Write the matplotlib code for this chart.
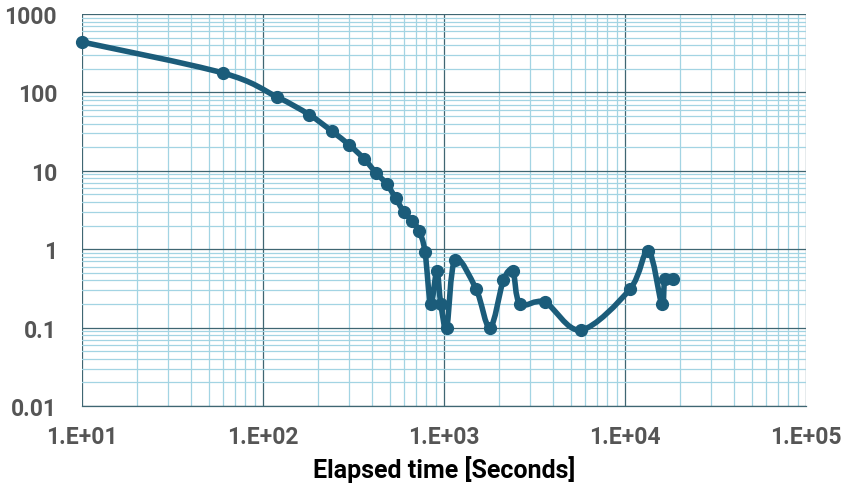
import numpy as np
import matplotlib.pyplot as plt
import matplotlib.ticker as mticker
from matplotlib.path import Path
from matplotlib.patches import PathPatch

# values (log-log)
elapsed_s = [10, 60, 119, 180, 240, 300, 363, 421, 482, 541, 601, 668, 728, 785,
             844, 912, 960, 1035, 1150, 1503, 1795, 2128, 2400, 2630, 3610, 5710,
             10660, 13460, 15960, 16630, 18500]
values = [440, 177, 88, 52, 32, 21.3, 14.1, 9.4, 6.8, 4.46, 2.96, 2.27, 1.72, 0.93,
          0.20, 0.52, 0.20, 0.10, 0.73, 0.31, 0.099, 0.40, 0.52, 0.20, 0.21, 0.093,
          0.31, 0.96, 0.20, 0.42, 0.42]

y_ticks = [0.01, 0.1, 1, 10, 100, 1000]
y_labels = ['0.01', '0.1', '1', '10', '100', '1000']
x_ticks = [1e1, 1e2, 1e3, 1e4, 1e5]
x_labels = ['1.E+01', '1.E+02', '1.E+03', '1.E+04', '1.E+05']

line_color = '#1b5c7a'
major_grid = '#3f6672'
minor_grid = '#a3d4e3'
label_gray = '#555555'


def smooth_path(xs, ys):
    # Excel-style smoothed line: cubic Bezier segments built in log space
    p = np.column_stack([np.log10(xs), np.log10(ys)])
    n = len(p)
    verts = [p[0]]
    codes = [Path.MOVETO]
    for i in range(n - 1):
        p0 = p[max(i - 1, 0)]
        p1 = p[i]
        p2 = p[i + 1]
        p3 = p[min(i + 2, n - 1)]
        c1 = p1 + (p2 - p0) / 6.0
        c2 = p2 - (p3 - p1) / 6.0
        verts += [c1, c2, p2]
        codes += [Path.CURVE4] * 3
    verts = 10.0 ** np.array(verts)
    return Path(verts, codes)


fig = plt.figure(figsize=(8.49, 4.85), dpi=100)
ax = fig.add_axes([0.0966, 0.161, 0.8528, 0.808])

ax.set_xscale('log')
ax.set_yscale('log')
ax.set_xlim(1e1, 1e5)
ax.set_ylim(0.01, 1000)

ax.add_patch(PathPatch(smooth_path(elapsed_s, values), fill=False,
                       edgecolor=line_color, lw=4.0, joinstyle='round',
                       capstyle='round', zorder=5, clip_on=False))
ax.plot(elapsed_s, values, linestyle='none', marker='o', ms=8.5,
        color=line_color, zorder=6, clip_on=False)

# grid: dark decade lines, light blue minor lines
ax.xaxis.set_minor_locator(mticker.LogLocator(base=10, subs=range(2, 10), numticks=20))
ax.yaxis.set_minor_locator(mticker.LogLocator(base=10, subs=range(2, 10), numticks=20))
ax.grid(which='minor', color=minor_grid, lw=0.9)
ax.grid(which='major', color=major_grid, lw=0.9)
ax.set_axisbelow(True)

for s in ['top', 'right', 'left']:
    ax.spines[s].set_visible(False)
ax.spines['bottom'].set_color(major_grid)
ax.spines['bottom'].set_linewidth(0.9)

ax.set_xticks(x_ticks)
ax.set_xticklabels(x_labels)
ax.set_yticks(y_ticks)
ax.set_yticklabels(y_labels)
ax.tick_params(which='both', length=0)
ax.tick_params(axis='x', pad=14)
ax.tick_params(axis='y', pad=18)
for t in ax.get_xticklabels() + ax.get_yticklabels():
    t.set_fontfamily('Roboto')
    t.set_fontweight('bold')
    t.set_fontsize(16.5)
    t.set_color(label_gray)

ax.set_xlabel('Elapsed time [Seconds]', fontfamily='Roboto', fontweight='bold',
              fontsize=18, color='black', labelpad=5)

fig.savefig('out.png', dpi=100)
